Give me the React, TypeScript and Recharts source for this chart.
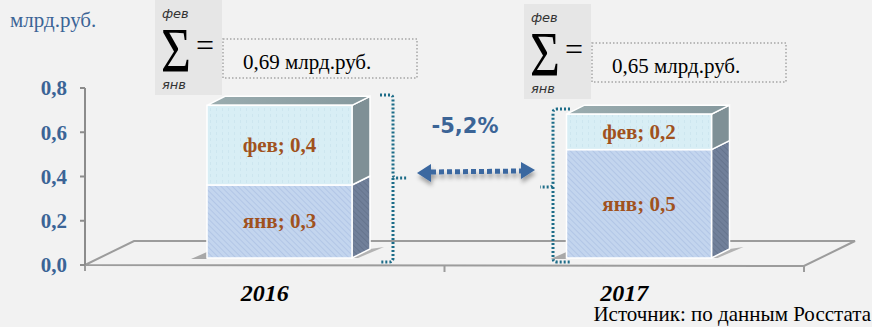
import React from 'react';
import { BarChart, Bar, XAxis, YAxis, LabelList } from 'recharts';

const categories = ['2016', '2017'];
const janValues = [0.33, 0.49];
const febValues = [0.36, 0.16];
const yTicks = [0, 0.2, 0.4, 0.6, 0.8];
const seriesNames = ['янв', 'фев'];
const changeText = '-5,2%';
const unitText = 'млрд.руб.';
const sourceText = 'Источник: по данным Росстата';

const W = 872;
const H = 327;
// 3d look: front face shift and box depth
const OX = 15;
const OY = -7;
const DX = 18;
const DY = -9;

const SERIF = '"Liberation Serif", "Times New Roman", serif';
const BLUE = '#3b6496';
const BROWN = '#a0521e';
const TEAL = '#1d6c88';

const fmt1 = (v: number) => v.toFixed(1).replace('.', ',');
const fmt2 = (v: number) => v.toFixed(2).replace('.', ',');

const data = categories.map((year, i) => ({ year, jan: janValues[i], feb: febValues[i] }));
const totals = categories.map((_, i) => janValues[i] + febValues[i]);

const boxShape = (isTop: boolean, front: string, side: string) => (props: any) => {
  const { x, y, width: w, height: h } = props;
  const fx = x + OX;
  const fy = y + OY;
  return (
    <g>
      {!isTop && (
        <>
          <polygon points={`${fx - 16},${fy + h + 1} ${fx},${fy + h - 6} ${fx},${fy + h + 1}`} fill="#777" opacity={0.6} />
          <polygon points={`${fx + w},${fy + h} ${fx + w + DX},${fy + h + DY} ${fx + w + DX + 14},${fy + h + DY - 2} ${fx + w + 6},${fy + h}`} fill="#999" opacity={0.7} />
        </>
      )}
      <polygon
        points={`${fx + w},${fy} ${fx + w + DX},${fy + DY} ${fx + w + DX},${fy + h + DY} ${fx + w},${fy + h}`}
        fill={side}
        stroke="#fff"
        strokeWidth={1.5}
      />
      {isTop && (
        <polygon
          points={`${fx},${fy} ${fx + DX},${fy + DY} ${fx + w + DX},${fy + DY} ${fx + w},${fy}`}
          fill="url(#topGrad)"
          stroke="#fff"
          strokeWidth={1.5}
        />
      )}
      <rect x={fx} y={fy} width={w} height={h} fill={front} stroke="#fff" strokeWidth={1.5} />
    </g>
  );
};

const segLabel = (name: string) => (p: any) => {
  const { x, y, width, height, value } = p;
  return (
    <text
      x={x + width / 2 + OX}
      y={y + height / 2 + OY}
      textAnchor="middle"
      dominantBaseline="central"
      fontFamily={SERIF}
      fontWeight="bold"
      fontSize={21}
      fill={BROWN}
    >
      {`${name}; ${fmt1(Number(value))}`}
    </text>
  );
};

const YearTick = (p: any) => (
  <text
    x={p.x}
    y={p.y + 28}
    textAnchor="middle"
    fontFamily={SERIF}
    fontWeight="bold"
    fontStyle="italic"
    fontSize={24}
    fill="#000"
  >
    {p.payload.value}
  </text>
);

const SumBlock = ({ bx, by, total }: { bx: number; by: number; total: number }) => (
  <g>
    <rect x={bx} y={by} width={67} height={95} fill="#e6e6e6" />
    <text x={bx + 7} y={by + 18} fontFamily='"DejaVu Sans", sans-serif' fontStyle="italic" fontSize={13} fill="#333">фев</text>
    <text transform={`translate(${bx + 6},${by + 72}) scale(0.78,0.96)`} fontFamily={SERIF} fontSize={66} fill="#000">Σ</text>
    <text x={bx + 7} y={by + 89} fontFamily='"DejaVu Sans", sans-serif' fontStyle="italic" fontSize={13} fill="#333">янв</text>
    <text x={bx + 41} y={by + 56} fontFamily={SERIF} fontSize={32} fill="#000">=</text>
    <rect x={bx + 68} y={by + 39} width={194} height={39} fill="none" stroke="#a6a6a6" strokeWidth={1.5} strokeDasharray="1.5 2" />
    <text x={bx + 88} y={by + 69} fontFamily={SERIF} fontSize={21} fill="#000">{`${fmt2(total)} ${unitText}`}</text>
  </g>
);

export default function App() {
  const left = 85;
  const right = 804;
  const base = 265;
  return (
    <div style={{ position: 'fixed', left: 0, top: 0, width: W, height: H, background: '#f2f2f2', overflow: 'hidden' }}>
      <svg width={W} height={H} style={{ position: 'absolute', left: 0, top: 0 }}>
        <defs>
          <pattern id="janPat" width="4" height="4" patternUnits="userSpaceOnUse" patternTransform="rotate(-45)">
            <rect width="4" height="4" fill="#c3d5ee" />
            <line x1="0" y1="0" x2="0" y2="4" stroke="#a9bfe2" strokeWidth="1.3" />
          </pattern>
          <pattern id="janSidePat" width="4" height="4" patternUnits="userSpaceOnUse" patternTransform="rotate(-45)">
            <rect width="4" height="4" fill="#71809a" />
            <line x1="0" y1="0" x2="0" y2="4" stroke="#5f6d86" strokeWidth="1.3" />
          </pattern>
          <pattern id="febPat" width="6" height="6" patternUnits="userSpaceOnUse">
            <rect width="6" height="6" fill="#d8eef5" />
            <rect x="0" y="0" width="1" height="3" fill="#cde6ef" />
          </pattern>
          <linearGradient id="topGrad" x1="0" y1="0" x2="1" y2="0">
            <stop offset="0%" stopColor="#9aacaf" />
            <stop offset="100%" stopColor="#86999e" />
          </linearGradient>
        </defs>
        <polygon
          points={`${left},${base} ${left + 49},${base - 24} ${right + 51},${base - 24} ${right},${base + 1}`}
          fill="none"
          stroke="#9c9c9c"
          strokeWidth={2}
        />
        <line x1={left} y1={base} x2={left} y2={base + 6} stroke="#9c9c9c" strokeWidth={2} />
        <line x1={(left + right) / 2} y1={base} x2={(left + right) / 2} y2={base + 7} stroke="#9c9c9c" strokeWidth={2} />
        <line x1={right} y1={base} x2={right} y2={base + 7} stroke="#9c9c9c" strokeWidth={2} />
      </svg>

      <div style={{ position: 'absolute', left: 0, top: 0 }}>
        <BarChart width={W} height={H} data={data} margin={{ top: 88, right: 68, bottom: 32, left: 10 }}>
          <XAxis dataKey="year" axisLine={false} tickLine={false} height={30} tick={<YearTick />} interval={0} />
          <YAxis
            width={75}
            domain={[0, 0.8]}
            ticks={yTicks}
            interval={0}
            tickFormatter={fmt1}
            axisLine={{ stroke: '#8c8c8c', strokeWidth: 2 }}
            tickLine={{ stroke: '#8c8c8c', strokeWidth: 2 }}
            tickSize={5}
            tickMargin={13}
            tick={{ fill: BLUE, fontFamily: SERIF, fontWeight: 'bold', fontSize: 21 }}
          />
          <Bar dataKey="jan" stackId="a" barSize={145} isAnimationActive={false} shape={boxShape(false, 'url(#janPat)', 'url(#janSidePat)')}>
            <LabelList dataKey="jan" content={segLabel(seriesNames[0])} />
          </Bar>
          <Bar dataKey="feb" stackId="a" barSize={145} isAnimationActive={false} shape={boxShape(true, 'url(#febPat)', '#7f9096')}>
            <LabelList dataKey="feb" content={segLabel(seriesNames[1])} />
          </Bar>
        </BarChart>
      </div>

      <svg width={W} height={H} style={{ position: 'absolute', left: 0, top: 0, pointerEvents: 'none' }}>
        <defs>
          <filter id="shadow" x="-20%" y="-50%" width="140%" height="250%">
            <feDropShadow dx="1" dy="4" stdDeviation="2" floodColor="#000" floodOpacity="0.35" />
          </filter>
        </defs>
        <text x={10} y={27} fontFamily={SERIF} fontSize={21} fill={BLUE}>{unitText}</text>
        <SumBlock bx={155} by={0} total={totals[0]} />
        <SumBlock bx={524} by={4} total={totals[1]} />

        <text x={465} y={133} textAnchor="middle" fontFamily='"DejaVu Sans", sans-serif' fontWeight="bold" fontSize={21} fill={BLUE}>{changeText}</text>

        <g filter="url(#shadow)">
          <line x1={431} y1={172} x2={522} y2={171} stroke="#3a67a0" strokeWidth={5} strokeDasharray="5 3" />
          <polygon points="417,173 431,164 431,182" fill="#3a67a0" />
          <polygon points="535,170 521,162 521,179" fill="#3a67a0" />
        </g>

        <path
          d="M380,95 L390,95 Q393,95 393,99 L393,174 Q393,178 397,178 L408,178 M393,178 L393,258 Q393,262 389,262 L380,262"
          fill="none"
          stroke={TEAL}
          strokeWidth={3}
          strokeDasharray="2 2"
        />
        <path
          d="M570,109 L557,109 Q553,109 553,113 L553,183 Q553,187 549,187 L540,187 M553,187 L553,258 Q553,262 557,262 L570,262"
          fill="none"
          stroke={TEAL}
          strokeWidth={3}
          strokeDasharray="2 2"
        />

        <text x={871} y={321} textAnchor="end" fontFamily={SERIF} fontSize={21} fill="#000">{sourceText}</text>
      </svg>
    </div>
  );
}
